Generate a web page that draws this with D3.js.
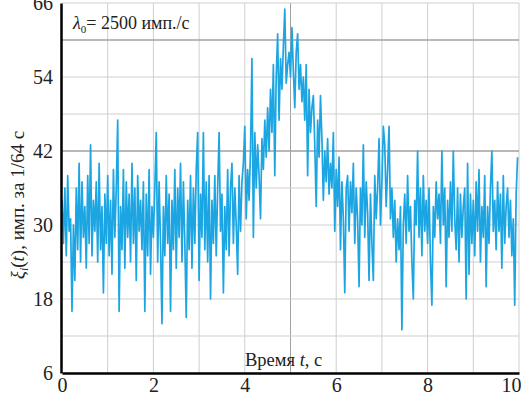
<!DOCTYPE html>
<html>
<head>
<meta charset="utf-8">
<script src="https://cdn.jsdelivr.net/npm/d3@7"></script>
<style>
  body { margin: 0; background: #fff; }
  svg text { font-family: "Liberation Serif", "Times New Roman", Times, serif; fill: #222; }
</style>
</head>
<body>
<div id="chart"></div>
<script>
// counts, 8 samples per row = 0.25 s
const counts = [
  34,27,36,25,38,29,31,16,
  30,21,36,26,40,24,37,28,
  33,23,38,27,43,25,34,29,
  37,24,40,26,33,19,35,27,
  38,25,34,22,39,28,36,47,
  16,33,26,39,23,37,28,35,
  24,40,27,36,21,38,29,34,
  26,37,16,35,25,39,22,33,
  28,36,45,24,37,27,14,33,
  25,38,27,35,16,34,26,39,
  23,36,28,40,24,37,27,15,
  34,26,38,23,36,27,39,45,
  21,35,28,45,26,37,24,38,
  18,34,27,38,25,36,45,29,
  35,19,33,26,39,25,36,40,
  27,36,30,22,38,29,37,40,
  46,31,39,34,42,57,28,45,
  36,43,38,31,44,39,47,41,
  49,42,52,45,56,38,54,61,
  47,57,52,59,65,53,56,58,
  54,62,55,49,58,61,52,56,
  50,54,47,56,38,52,45,49,
  51,43,33,47,41,51,44,34,
  42,37,44,35,40,36,45,29,
  39,33,41,26,37,31,19,36,
  38,29,37,32,40,27,36,31,
  20,36,30,43,28,37,32,21,
  35,27,21,38,31,36,44,30,
  37,46,43,33,39,46,31,36,
  28,34,24,31,26,33,13,30,
  35,27,38,29,33,24,18,34,
  30,42,28,36,25,38,29,34,
  27,36,24,17,33,28,37,31,
  35,27,42,30,36,20,34,28,
  37,29,42,31,26,36,24,35,
  28,33,36,18,40,22,35,27,
  34,25,37,29,39,24,33,28,
  38,20,33,27,36,42,29,34,
  26,37,29,35,23,38,27,33,
  36,28,34,25,31,17,35,41
];
const samplesPerSec = 32;
const xTicks = [0, 2, 4, 6, 8, 10];
const yTicks = [6, 18, 30, 42, 54, 66];
const xGrid = [1, 2, 3, 4, 5, 6, 7, 8, 9, 10];
const yGrid = [12, 18, 24, 30, 36, 42, 48, 54, 60, 66];
const darkX = [5];
const darkY = [42, 60];

const width = 524, height = 397;
const svg = d3.select("#chart").append("svg")
  .attr("width", width)
  .attr("height", height);

const x = d3.scaleLinear().domain([0, 10]).range([62, 519]);
const y = d3.scaleLinear().domain([6, 66]).range([373, 3]);

// grid
svg.append("g").selectAll("line")
  .data(xGrid).enter().append("line")
  .attr("x1", d => x(d)).attr("x2", d => x(d))
  .attr("y1", y(66)).attr("y2", y(6))
  .attr("stroke", d => darkX.includes(d) ? "#a0a0a0" : "#cfcfcf")
  .attr("stroke-width", 1);
svg.append("g").selectAll("line")
  .data(yGrid).enter().append("line")
  .attr("x1", x(0)).attr("x2", x(10))
  .attr("y1", d => y(d)).attr("y2", d => y(d))
  .attr("stroke", d => darkY.includes(d) ? "#a0a0a0" : "#cfcfcf")
  .attr("stroke-width", d => darkY.includes(d) ? 1.3 : 1);

// signal
const line = d3.line()
  .x((d, i) => x(i / samplesPerSec))
  .y(d => y(d));
svg.append("path")
  .datum(counts)
  .attr("fill", "none")
  .attr("stroke", "#1ba5e2")
  .attr("stroke-width", 1.7)
  .attr("stroke-linejoin", "round")
  .attr("d", line);

// axes
const gy = svg.append("g")
  .attr("transform", `translate(${x(0) - 1},0)`)
  .call(d3.axisLeft(y).tickValues(yTicks).tickSize(0).tickPadding(8));
const gx = svg.append("g")
  .attr("transform", `translate(0,${y(6)})`)
  .call(d3.axisBottom(x).tickValues(xTicks).tickSize(0).tickPadding(5));
[gx, gy].forEach(g => {
  g.attr("font-family", null).attr("font-size", null);
  g.select(".domain").attr("stroke", "#000").attr("stroke-width", 2.5);
  g.selectAll("text")
    .style("font-size", "20px")
    .attr("fill", "#222");
});
gx.selectAll(".tick text").filter(d => d === 10).attr("text-anchor", "end").attr("x", 2);

// labels
const ann = svg.append("text")
  .attr("x", 73).attr("y", 29)
  .style("font-size", "18px");
ann.append("tspan").style("font-style", "italic").text("λ");
ann.append("tspan").attr("dy", 4).style("font-size", "11px").text("0");
ann.append("tspan").attr("dy", -4).text("= 2500 имп./с");

const xl = svg.append("text")
  .attr("x", 245).attr("y", 366)
  .style("font-size", "18.5px");
xl.append("tspan").text("Время ");
xl.append("tspan").style("font-style", "italic").text("t");
xl.append("tspan").text(", с");

const yl = svg.append("text")
  .attr("transform", "translate(24,205) rotate(-90)")
  .attr("text-anchor", "middle")
  .style("font-size", "19px");
yl.append("tspan").style("font-style", "italic").text("ξ");
yl.append("tspan").attr("dy", 4).style("font-size", "12px").style("font-style", "italic").text("i");
yl.append("tspan").attr("dy", -4).text("(");
yl.append("tspan").style("font-style", "italic").text("t");
yl.append("tspan").text("), имп. за 1/64 с");
</script>
</body>
</html>
